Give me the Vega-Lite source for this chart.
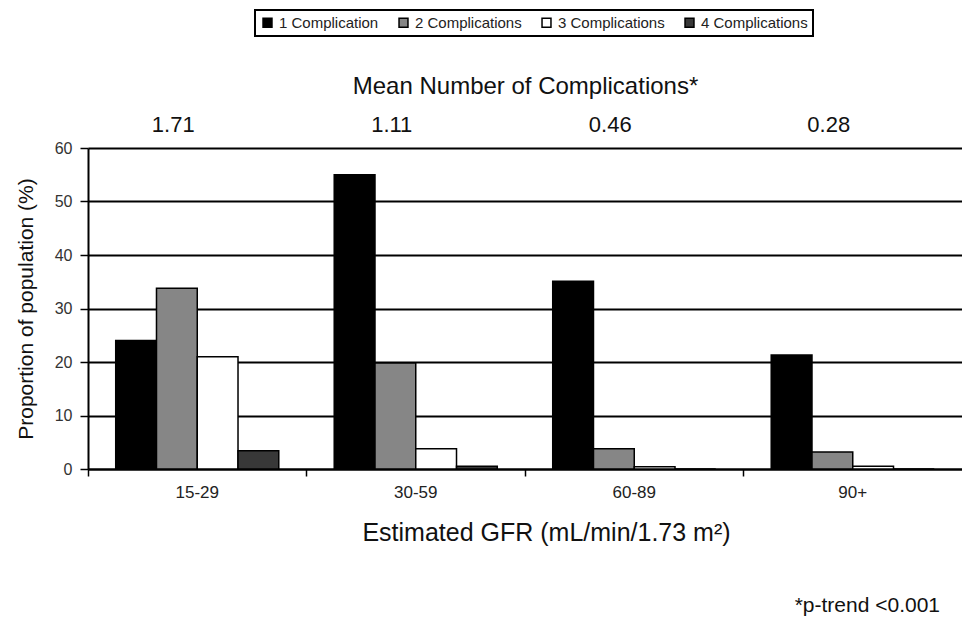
{
  "$schema": "https://vega.github.io/schema/vega-lite/v6.json",
  "autosize": {"type": "none"},
  "padding": {"left": 88, "top": 148, "right": 0, "bottom": 165},
  "width": 874,
  "height": 321,
  "background": "white",
  "config": {
    "view": {"stroke": null},
    "font": "Liberation Sans",
    "legend": {"strokeWidth": 2}
  },
  "title": {
    "text": "*p-trend <0.001",
    "orient": "bottom",
    "anchor": "end",
    "fontSize": 21,
    "fontWeight": "normal",
    "color": "#111",
    "offset": 50,
    "dx": -22
  },
  "datasets": {
    "bars": [
      {"gfr": "15-29", "complications": "1 Complication", "pct": 24},
      {"gfr": "15-29", "complications": "2 Complications", "pct": 33.8},
      {"gfr": "15-29", "complications": "3 Complications", "pct": 21},
      {"gfr": "15-29", "complications": "4 Complications", "pct": 3.4},
      {"gfr": "30-59", "complications": "1 Complication", "pct": 55},
      {"gfr": "30-59", "complications": "2 Complications", "pct": 19.8},
      {"gfr": "30-59", "complications": "3 Complications", "pct": 3.8},
      {"gfr": "30-59", "complications": "4 Complications", "pct": 0.5},
      {"gfr": "60-89", "complications": "1 Complication", "pct": 35.1},
      {"gfr": "60-89", "complications": "2 Complications", "pct": 3.8},
      {"gfr": "60-89", "complications": "3 Complications", "pct": 0.4},
      {"gfr": "60-89", "complications": "4 Complications", "pct": 0},
      {"gfr": "90+", "complications": "1 Complication", "pct": 21.3},
      {"gfr": "90+", "complications": "2 Complications", "pct": 3.2},
      {"gfr": "90+", "complications": "3 Complications", "pct": 0.5},
      {"gfr": "90+", "complications": "4 Complications", "pct": 0}
    ],
    "means": [
      {"gfr": "15-29", "mean": "1.71"},
      {"gfr": "30-59", "mean": "1.11"},
      {"gfr": "60-89", "mean": "0.46"},
      {"gfr": "90+", "mean": "0.28"}
    ]
  },
  "layer": [
    {
      "data": {"name": "bars"},
      "mark": {"type": "bar", "stroke": "black", "strokeWidth": 1.5},
      "encoding": {
        "x": {
          "field": "gfr",
          "type": "nominal",
          "sort": null,
          "scale": {"paddingInner": 0, "paddingOuter": 0},
          "axis": {
            "title": "Estimated  GFR (mL/min/1.73 m²)",
            "titleFontSize": 25,
            "titleFontWeight": "normal",
            "titleColor": "#111",
            "titlePadding": 20,
            "titleX": 458,
            "labelAngle": 0,
            "labelFontSize": 17,
            "labelColor": "#222",
            "labelPadding": 8,
            "bandPosition": 0,
            "tickColor": "black",
            "tickSize": 7,
            "tickWidth": 1.5,
            "domainColor": "black",
            "domainWidth": 2,
            "grid": false
          }
        },
        "xOffset": {
          "field": "complications",
          "type": "nominal",
          "scale": {"paddingInner": 0, "paddingOuter": 0.68}
        },
        "y": {
          "field": "pct",
          "type": "quantitative",
          "scale": {"domain": [0, 60], "nice": false},
          "axis": {
            "title": "Proportion of population (%)",
            "titleFontSize": 21,
            "titleFontWeight": "normal",
            "titleColor": "#111",
            "titlePadding": 18,
            "values": [0, 10, 20, 30, 40, 50, 60],
            "labelFontSize": 16,
            "labelColor": "#333",
            "labelPadding": 8,
            "tickColor": "black",
            "tickSize": 8,
            "tickWidth": 1.5,
            "domainColor": "black",
            "domainWidth": 2,
            "grid": true,
            "gridColor": "black",
            "gridWidth": 2,
            "gridOpacity": 1
          }
        },
        "color": {
          "field": "complications",
          "type": "nominal",
          "scale": {
            "domain": ["1 Complication", "2 Complications", "3 Complications", "4 Complications"],
            "range": ["#000000", "#868686", "#ffffff", "#383838"]
          },
          "legend": {
            "title": null,
            "orient": "none",
            "legendX": 167,
            "legendY": -138,
            "direction": "horizontal",
            "columns": 4,
            "symbolType": "square",
            "symbolSize": 80,
            "symbolStrokeColor": "black",
            "symbolStrokeWidth": 1.5,
            "labelFontSize": 15,
            "labelColor": "#222",
            "columnPadding": 17,
            "strokeColor": "black",
            "padding": 5,
            "fillColor": "white"
          }
        }
      }
    },
    {
      "data": {"name": "means"},
      "mark": {"type": "text", "fontSize": 22, "color": "#111", "dy": -23, "dx": -24, "baseline": "middle"},
      "encoding": {
        "x": {
          "field": "gfr",
          "type": "nominal",
          "sort": null,
          "axis": {
            "orient": "top",
            "title": "Mean Number of Complications*",
            "titleFontSize": 24,
            "titleFontWeight": "normal",
            "titleColor": "#111",
            "titlePadding": 50,
            "labels": false,
            "ticks": false,
            "domain": false,
            "grid": false
          }
        },
        "y": {"datum": 60, "type": "quantitative"},
        "text": {"field": "mean"}
      }
    }
  ],
  "resolve": {"axis": {"x": "independent"}}
}
